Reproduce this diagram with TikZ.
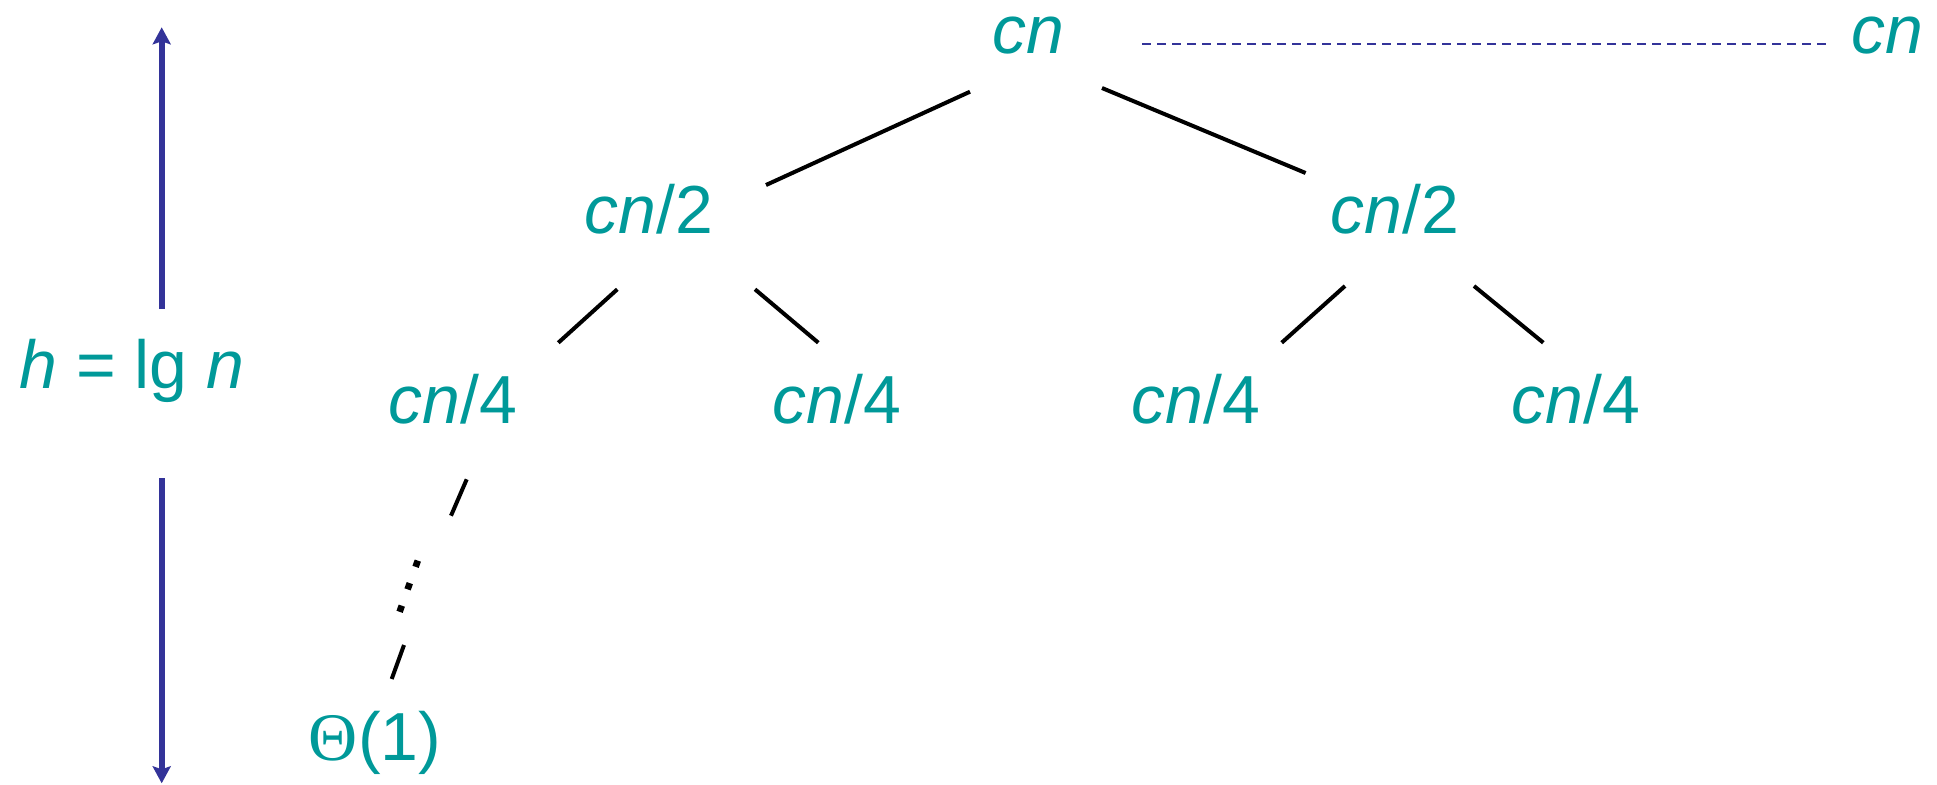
\documentclass[tikz,border=0pt]{standalone}
\usepackage{fontspec}
\setmainfont{Liberation Sans}
\newfontfamily\thetafont{Liberation Serif}
\usetikzlibrary{arrows.meta}
\definecolor{tealc}{RGB}{0,153,153}
\definecolor{bluec}{RGB}{51,51,153}
\begin{document}
\begin{tikzpicture}[x=0.5pt,y=-0.5pt,
  lbl/.style={anchor=base,inner sep=0pt,text=tealc,font=\fontsize{34}{40}\selectfont},
  edge/.style={draw=black,line width=2pt},
  harrow/.style={draw=bluec,line width=3pt,-{Stealth[length=8.5pt,width=9pt,inset=1.5pt]}},
  dline/.style={draw=bluec,line width=1.35pt,dash pattern=on 4.5pt off 3pt}]
\useasboundingbox (0,0) rectangle (1937,784);
% nodes
\node[lbl] (root) at (1028,53) {\textit{cn}};
\node[lbl] (rsum) at (1887,53) {\textit{cn}};
\node[lbl] (l) at (649,233) {\textit{cn}/2};
\node[lbl] (r) at (1395,233) {\textit{cn}/2};
\node[lbl] (ll) at (453,423) {\textit{cn}/4};
\node[lbl] (lr) at (837,423) {\textit{cn}/4};
\node[lbl] (rl) at (1196,423) {\textit{cn}/4};
\node[lbl] (rr) at (1576,423) {\textit{cn}/4};
\node[lbl] (leaf) at (375,760) {{\thetafont\char"0398}(1)};
\node[lbl] (h) at (132,388) {\textit{h} = lg \textit{n}};
% connector endpoints
\coordinate (a1) at (970,91.7);   \coordinate (a2) at (766,185);
\coordinate (b1) at (1102,88);    \coordinate (b2) at (1305.6,173);
\coordinate (c1) at (617.3,289.3); \coordinate (c2) at (558.3,342.7);
\coordinate (d1) at (755,289.3);  \coordinate (d2) at (818.3,342.7);
\coordinate (e1) at (1345,286);   \coordinate (e2) at (1281.7,342.7);
\coordinate (f1) at (1474,286);   \coordinate (f2) at (1543.3,342.7);
\coordinate (g1) at (466.7,479.3); \coordinate (g2) at (451,515.7);
\coordinate (k1) at (417.8,560.6); \coordinate (k2) at (399.6,611.8);
\coordinate (m1) at (404,645);    \coordinate (m2) at (391.7,679);
\coordinate (s1) at (1142,44);    \coordinate (s2) at (1830,44);
\coordinate (u1) at (161.7,309);  \coordinate (u2) at (161.7,27.3);
\coordinate (v1) at (161.7,478);  \coordinate (v2) at (161.7,783.3);
% tree edges
\draw[edge] (a1) -- (a2);
\draw[edge] (b1) -- (b2);
\draw[edge] (c1) -- (c2);
\draw[edge] (d1) -- (d2);
\draw[edge] (e1) -- (e2);
\draw[edge] (f1) -- (f2);
\draw[edge] (g1) -- (g2);
\draw[draw=black,line width=3.3pt,dash pattern=on 3.3pt off 8.65pt] (k1) -- (k2);
\draw[edge] (m1) -- (m2);
% level sum
\draw[dline] (s1) -- (s2);
% height arrows
\draw[harrow] (u1) -- (u2);
\draw[harrow] (v1) -- (v2);
\end{tikzpicture}
\end{document}
